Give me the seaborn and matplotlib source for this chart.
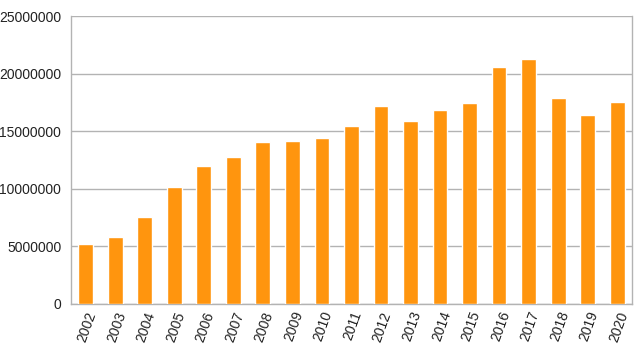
import numpy as np
import pandas as pd
import matplotlib
matplotlib.use("Agg")
import matplotlib.pyplot as plt
import seaborn as sns

years = [str(y) for y in range(2002, 2021)]
values = [5180000, 5790000, 7550000, 10160000, 12000000, 12760000, 14060000,
          14150000, 14370000, 15450000, 17190000, 15900000, 16840000, 17480000,
          20600000, 21300000, 17850000, 16400000, 17560000]

df = pd.DataFrame({"year": years, "value": values})

sns.set_style("white")
plt.rcParams['font.family'] = ['Liberation Sans', 'DejaVu Sans']

fig = plt.figure(figsize=(6.39, 3.58), dpi=100)
ax = fig.add_axes([0.111, 0.151, 0.878, 0.804])

sns.barplot(data=df, x="year", y="value", color="#ff950e", saturation=1,
            width=0.5, ax=ax, zorder=3)

ax.set_ylim(0, 25000000)
ax.set_xlim(-0.5, len(years) - 0.5)
ax.set_yticks(np.arange(0, 25000001, 5000000))
ax.yaxis.set_major_formatter(matplotlib.ticker.FuncFormatter(lambda v, p: f"{int(v)}"))
ax.grid(axis="y", color="#b3b3b3", linewidth=1, zorder=0)
ax.set_xlabel("")
ax.set_ylabel("")

# x ticks between categories, labels centred on bars
ax.set_xticks(np.arange(-0.5, len(years), 1), minor=True)
ax.tick_params(axis="x", which="minor", length=5, color="#b3b3b3", width=1)
ax.tick_params(axis="x", which="major", length=0, pad=4)
ax.tick_params(axis="y", length=5, color="#b3b3b3", width=1, pad=2)
ax.set_xticks(range(len(years)))
ax.set_xticklabels(years, rotation=70, ha="right", rotation_mode="anchor",
                   fontsize=10, color="#222222")
for lab in ax.get_yticklabels():
    lab.set_fontsize(10)
    lab.set_color("#222222")

for s in ["left", "right", "bottom", "top"]:
    ax.spines[s].set_color("#b3b3b3")
    ax.spines[s].set_linewidth(1)
ax.spines["top"].set_visible(False)

fig.savefig("out.png", dpi=100)
